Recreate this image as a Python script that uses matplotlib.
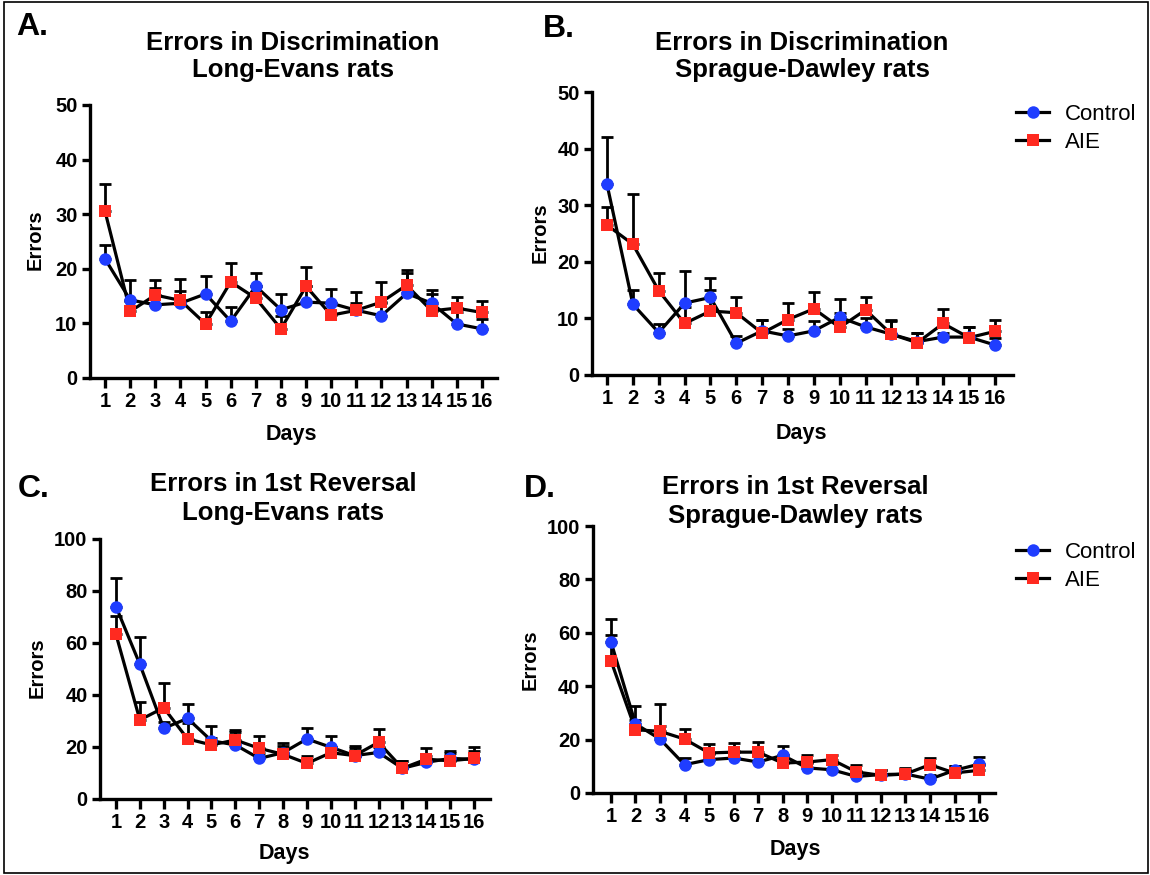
import matplotlib
matplotlib.use('Agg')
import matplotlib.pyplot as plt
import matplotlib.patches as patches
import numpy as np

params = {
    'font.family': ['Liberation Sans', 'DejaVu Sans'],
    'font.weight': 'bold',
    'axes.linewidth': 2.4,
    'xtick.major.width': 2.4,
    'ytick.major.width': 2.4,
    'xtick.major.size': 7,
    'ytick.major.size': 6,
    'xtick.labelsize': 14.5,
    'ytick.labelsize': 14.5,
}
plt.rcParams.update(params)

days = np.arange(1, 17)

# A: discrimination, Long-Evans
ctrl_A = [21.8, 14.3, 13.4, 13.7, 15.4, 10.4, 16.8, 12.5, 13.9, 13.7, 12.4, 11.4, 15.5, 13.7, 9.9, 9.0]
ctrl_A_err = [2.6, 3.7, 3.1, 2.2, 3.3, 2.6, 2.4, 2.9, 2.9, 2.6, 1.3, 2.3, 3.8, 2.5, 2.1, 1.8]
aie_A = [30.5, 12.2, 15.2, 14.2, 9.9, 17.6, 14.6, 9.0, 16.8, 11.5, 12.4, 13.9, 17.0, 12.3, 12.8, 12.0]
aie_A_err = [5.0, 1.9, 2.8, 3.9, 2.1, 3.4, 2.2, 2.3, 3.5, 2.2, 3.3, 3.7, 2.8, 3.1, 2.0, 2.1]

# B: discrimination, Sprague-Dawley
ctrl_B = [33.7, 12.5, 7.5, 12.7, 13.7, 5.6, 7.8, 6.9, 7.8, 10.2, 8.5, 7.2, 5.9, 6.7, 6.7, 5.3]
ctrl_B_err = [8.3, 2.5, 1.5, 5.7, 3.4, 1.3, 1.9, 1.3, 1.8, 3.2, 1.5, 2.4, 1.5, 0.7, 1.7, 1.2]
aie_B = [26.5, 23.1, 14.9, 9.1, 11.3, 11.0, 7.4, 9.8, 11.7, 8.4, 11.5, 7.2, 5.7, 9.1, 6.6, 7.7]
aie_B_err = [3.2, 8.9, 3.1, 3.0, 3.8, 2.8, 2.3, 3.0, 3.0, 2.5, 2.2, 2.5, 1.7, 2.5, 1.9, 2.0]

# C: 1st reversal, Long-Evans
ctrl_C = [74.0, 51.8, 27.2, 31.0, 22.4, 20.8, 15.6, 17.8, 23.1, 19.9, 16.7, 17.9, 11.8, 14.1, 15.6, 15.3]
ctrl_C_err = [10.9, 10.6, 2.5, 5.5, 5.7, 5.7, 2.2, 3.6, 4.3, 4.5, 3.8, 2.1, 2.8, 2.4, 3.0, 3.2]
aie_C = [63.3, 30.4, 35.1, 23.1, 20.8, 22.7, 19.5, 17.2, 13.7, 17.8, 16.7, 21.8, 11.8, 15.3, 14.7, 15.6]
aie_C_err = [7.1, 7.0, 9.4, 6.0, 2.5, 2.9, 4.7, 3.3, 3.0, 2.2, 3.0, 5.0, 2.8, 4.2, 3.1, 4.5]

# D: 1st reversal, Sprague-Dawley
ctrl_D = [56.7, 25.9, 20.2, 10.6, 12.5, 13.1, 11.6, 14.1, 9.4, 8.7, 6.2, 6.9, 7.1, 5.2, 8.5, 10.8]
ctrl_D_err = [8.3, 6.5, 5.0, 2.5, 2.0, 2.5, 2.5, 3.4, 2.0, 2.0, 2.0, 1.8, 1.5, 1.5, 1.5, 2.7]
aie_D = [49.6, 23.7, 23.1, 20.2, 15.0, 15.3, 15.3, 11.2, 11.6, 12.5, 7.9, 6.6, 7.1, 10.6, 7.5, 8.5]
aie_D_err = [9.6, 3.7, 10.3, 3.9, 3.3, 3.4, 3.9, 3.1, 2.5, 1.6, 2.4, 2.1, 2.3, 2.4, 2.5, 2.0]

BLUE = '#1f3dff'
RED = '#ff2a20'

W, H = 1150, 875
fig = plt.figure(figsize=(W / 100, H / 100), dpi=100)


def px(x0, y0, x1, y1):
    # pixel box -> figure fraction [left, bottom, width, height]
    return [x0 / W, 1 - y1 / H, (x1 - x0) / W, (y1 - y0) / H]


def panel(box, xlim, ymax, ystep, ctrl, ctrl_err, aie, aie_err):
    ax = fig.add_axes(px(*box))
    for vals, err, col, mk in [(ctrl, ctrl_err, BLUE, 'o'), (aie, aie_err, RED, 's')]:
        vals = np.array(vals)
        err = np.array(err)
        ax.errorbar(days, vals, yerr=[np.zeros_like(err), err], fmt='none',
                    ecolor='black', elinewidth=2.0, capsize=4.5, capthick=2.0,
                    zorder=2, clip_on=False)
        ax.plot(days, vals, '-', color='black', lw=2.3, zorder=3, clip_on=False)
        ax.plot(days, vals, mk, color=col, markersize=9 if mk == 'o' else 8.5,
                markeredgewidth=0, zorder=4, clip_on=False, linestyle='none')
    ax.set_xlim(*xlim)
    ax.set_ylim(0, ymax)
    ax.set_xticks(days)
    ax.set_yticks(np.arange(0, ymax + 1, ystep))
    for s in ['top', 'right']:
        ax.spines[s].set_visible(False)
    ax.tick_params(axis='x', pad=3)
    ax.tick_params(axis='y', pad=3)
    for lab in ax.get_xticklabels() + ax.get_yticklabels():
        lab.set_fontweight('bold')
    return ax


axA = panel((90, 105, 497, 378), (0.4, 16.6), 50, 10, ctrl_A, ctrl_A_err, aie_A, aie_A_err)
axB = panel((592, 92, 1013, 375), (0.42, 16.7), 50, 10, ctrl_B, ctrl_B_err, aie_B, aie_B_err)
axC = panel((100, 539, 490, 799), (0.33, 16.67), 100, 20, ctrl_C, ctrl_C_err, aie_C, aie_C_err)
axD = panel((593, 526, 995, 793), (0.27, 16.65), 100, 20, ctrl_D, ctrl_D_err, aie_D, aie_D_err)

# titles, panel letters, axis labels
def ftext(x, y, s, **kw):
    fig.text(x / W, 1 - y / H, s, **kw)

tkw = dict(ha='center', va='baseline', fontsize=18.5, fontweight='bold')
ftext(293, 50, 'Errors in Discrimination', **tkw)
ftext(293, 77, 'Long-Evans rats', **tkw)
ftext(802, 50, 'Errors in Discrimination', **tkw)
ftext(802, 77, 'Sprague-Dawley rats', **tkw)
ftext(283, 491, 'Errors in 1st Reversal', **tkw)
ftext(283, 520, 'Long-Evans rats', **tkw)
ftext(795, 494, 'Errors in 1st Reversal', **tkw)
ftext(795, 523, 'Sprague-Dawley rats', **tkw)

lkw = dict(ha='left', va='baseline', fontsize=23, fontweight='bold')
ftext(16, 35, 'A.', **lkw)
ftext(543, 37, 'B.', **lkw)
ftext(18, 497, 'C.', **lkw)
ftext(524, 497, 'D.', **lkw)

ykw = dict(ha='center', va='center', rotation=90, fontsize=14.5, fontweight='bold')
ftext(35, 240, 'Errors', **ykw)
ftext(540, 233, 'Errors', **ykw)
ftext(37, 668, 'Errors', **ykw)
ftext(530, 660, 'Errors', **ykw)

xkw = dict(ha='center', va='center', fontsize=15.5, fontweight='bold')
ftext(291, 435, 'Days', **xkw)
ftext(801, 434, 'Days', **xkw)
ftext(284, 854, 'Days', **xkw)
ftext(795, 850, 'Days', **xkw)

# legends (B and D)
for ax, ytop in [(axB, 104), (axD, 542)]:
    h1, = ax.plot([], [], '-o', color='black', markerfacecolor=BLUE, markeredgewidth=0,
                  markersize=9, lw=2.3)
    h2, = ax.plot([], [], '-s', color='black', markerfacecolor=RED, markeredgewidth=0,
                  markersize=8.5, lw=2.3)
    leg = ax.legend([h1, h2], ['Control', 'AIE'], loc='upper left',
                    bbox_to_anchor=(1016 / W, 1 - ytop / H), bbox_transform=fig.transFigure,
                    frameon=False, handlelength=1.5, handletextpad=0.7,
                    labelspacing=0.3, borderaxespad=0, borderpad=0,
                    prop={'size': 16, 'weight': 'normal'})

# outer frame
fig.patches.append(patches.Rectangle((4 / W, 2 / H), 1144 / W, 871 / H,
                                     transform=fig.transFigure, fill=False,
                                     edgecolor='black', lw=1.2))

fig.savefig('out.png', dpi=100)
